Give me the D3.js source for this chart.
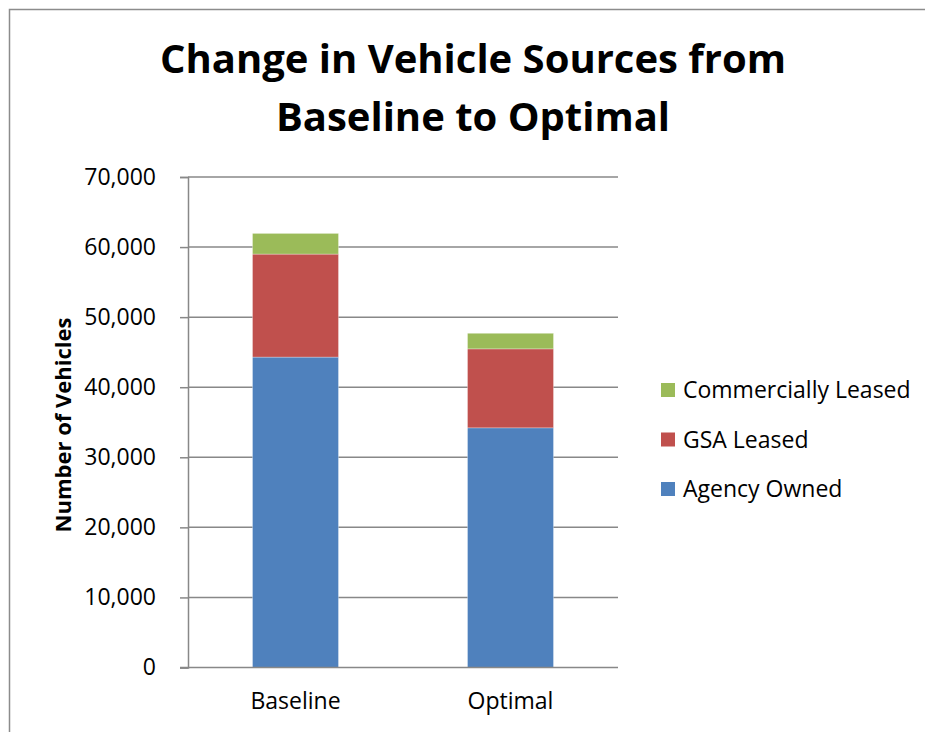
<!DOCTYPE html>
<html>
<head>
<meta charset="utf-8">
<script src="https://cdn.jsdelivr.net/npm/d3@7"></script>
<style>
  html, body { margin: 0; padding: 0; background: #fff; }
  svg { display: block; }
  text { font-family: "Open Sans", "Noto Sans", sans-serif; fill: #000; }
</style>
</head>
<body>
<svg id="chart" width="925" height="732"></svg>
<script>
// Vehicle counts by source, stacked per scenario
const categories = ["Baseline", "Optimal"];
const seriesNames = ["Agency Owned", "GSA Leased", "Commercially Leased"];
const agencyOwned = [44300, 34200];
const gsaLeased = [14700, 11270];
const commerciallyLeased = [2950, 2230];
const yTicks = [0, 10000, 20000, 30000, 40000, 50000, 60000, 70000];
const colors = ["#4F81BD", "#C0504D", "#9BBB59"];

const rows = categories.map((c, i) => ({
  category: c,
  "Agency Owned": agencyOwned[i],
  "GSA Leased": gsaLeased[i],
  "Commercially Leased": commerciallyLeased[i]
}));

const svg = d3.select("#chart");

// outer chart frame
svg.append("rect")
  .attr("x", 9.5).attr("y", 9.5)
  .attr("width", 940).attr("height", 760)
  .attr("fill", "none").attr("stroke", "#8c8c8c").attr("stroke-width", 1.5);

const plot = { left: 188, right: 618, top: 177, bottom: 667.5 };

const x = d3.scaleBand()
  .domain(categories)
  .range([plot.left, plot.right])
  .paddingInner(0.6)
  .paddingOuter(0.3);

const y = d3.scaleLinear()
  .domain([0, 70000])
  .range([plot.bottom, plot.top]);

// horizontal gridlines
svg.append("g")
  .selectAll("line")
  .data(yTicks.filter(t => t > 0))
  .join("line")
  .attr("x1", plot.left).attr("x2", plot.right)
  .attr("y1", d => y(d)).attr("y2", d => y(d))
  .attr("stroke", "#888").attr("stroke-width", 1.5);

// stacked bars
const stack = d3.stack().keys(seriesNames)(rows);
svg.append("g")
  .selectAll("g")
  .data(stack)
  .join("g")
  .attr("fill", (d, i) => colors[i])
  .selectAll("rect")
  .data(d => d)
  .join("rect")
  .attr("x", d => x(d.data.category))
  .attr("width", x.bandwidth())
  .attr("y", d => y(d[1]))
  .attr("height", d => y(d[0]) - y(d[1]))
  .attr("stroke", "#fff").attr("stroke-opacity", 0.5).attr("stroke-width", 0.6);

// y axis
const yAxis = d3.axisLeft(y)
  .tickValues(yTicks)
  .tickFormat(d3.format(","))
  .tickSize(8)
  .tickPadding(24);
const gy = svg.append("g")
  .attr("transform", `translate(${plot.left},0)`)
  .call(yAxis);
gy.select(".domain").attr("stroke", "#888").attr("stroke-width", 1.5);
gy.selectAll(".tick line").attr("stroke", "#888").attr("stroke-width", 1.5);
gy.selectAll(".tick text")
  .attr("font-size", 23)
  .attr("font-family", "'Open Sans', sans-serif")
  .attr("fill", "#000");

// x axis
const xAxis = d3.axisBottom(x).tickSize(0).tickPadding(25);
const gx = svg.append("g")
  .attr("transform", `translate(0,${plot.bottom})`)
  .call(xAxis);
gx.select(".domain")
  .attr("d", `M${plot.left - 8},0H${plot.right}`)
  .attr("stroke", "#888").attr("stroke-width", 1.5);
gx.selectAll(".tick text")
  .attr("font-size", 23)
  .attr("font-family", "'Open Sans', sans-serif")
  .attr("fill", "#000");

// title
const title = svg.append("text")
  .attr("text-anchor", "middle")
  .attr("font-size", 40)
  .attr("font-weight", "bold");
title.append("tspan").attr("x", 473).attr("y", 73).text("Change in Vehicle Sources from");
title.append("tspan").attr("x", 473).attr("y", 131).text("Baseline to Optimal");

// y axis title
svg.append("text")
  .attr("transform", "translate(71,425) rotate(-90)")
  .attr("text-anchor", "middle")
  .attr("font-size", 22)
  .attr("font-weight", "bold")
  .text("Number of Vehicles");

// legend (top entry is the top of the stack)
const legendItems = seriesNames.slice().reverse();
const legend = svg.append("g")
  .selectAll("g")
  .data(legendItems)
  .join("g")
  .attr("transform", (d, i) => `translate(661,${390 + i * 49.5})`);
legend.append("rect")
  .attr("x", 0).attr("y", -7)
  .attr("width", 14).attr("height", 14)
  .attr("fill", d => colors[seriesNames.indexOf(d)]);
legend.append("text")
  .attr("x", 22).attr("y", 0)
  .attr("dy", "0.35em")
  .attr("font-size", 23)
  .text(d => d);
</script>
</body>
</html>
